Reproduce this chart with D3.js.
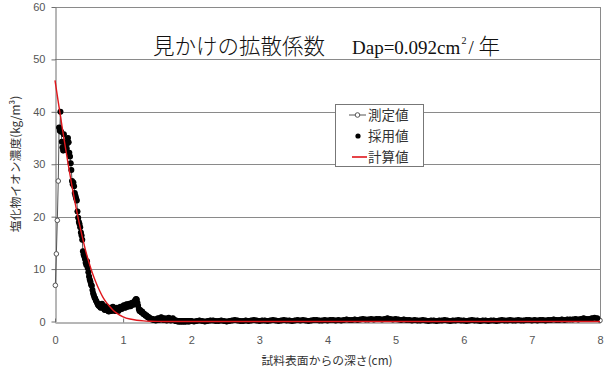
<!DOCTYPE html>
<html>
<head>
<meta charset="utf-8">
<script src="https://cdn.jsdelivr.net/npm/d3@7"></script>
<style>
  html, body { margin: 0; padding: 0; background: #fff; }
  svg { display: block; }
</style>
</head>
<body>
<svg id="chart" width="608" height="370"></svg>
<script>
// Chloride profile: depth (cm) vs chloride ion concentration (kg/m3)

const xTicks = [0, 1, 2, 3, 4, 5, 6, 7, 8];
const yTicks = [0, 10, 20, 30, 40, 50, 60];

// Measured points near the surface (depth, value) that are not adopted
const measuredHeadDepth = [0.005, 0.02, 0.034, 0.048];
const measuredHeadValue = [6.9, 12.9, 19.3, 26.8];
// Last measured point at the far end of the core
const measuredEndDepth = [8.0];
const measuredEndValue = [0.2];

// Adopted values, near-surface part: sampled every 0.01 cm from 0.06 cm
const nearStart = 0.06, nearStep = 0.01;
const nearValues = [
  37.0,36.4,40.0,36.2,34.3,33.2,32.6,35.7,34.2,33.4,
  32.7,33.0,34.0,35.0,34.2,32.2,31.5,30.2,28.9,26.8,
  26.2,26.5,25.8,24.5,24.0,23.5,23.1,21.0,19.8,19.0,
  18.6,18.0,17.0,16.4,15.6,13.4,12.8,12.4,11.9,11.2,
  10.8,11.5,10.2,9.4,8.6,8.0,7.6,7.0,6.8,6.0,
  5.4,5.0,4.6,4.4,4.0,3.8,3.5,3.2,3.0,3.3,
  2.8,2.6,2.9,3.4,3.0,2.6,2.4,2.2,2.6,2.9,
  2.5,2.2,2.0,1.9,2.2,2.6,2.3,2.0,2.4,2.8,
  2.5,2.2,2.0,2.1,2.4,2.6,2.3,2.0,2.2,2.5,
  2.8,2.6,2.4,2.6,2.9,3.1,2.8,2.6,3.0,3.3,
  3.0,2.8,3.2,3.4,3.1,2.9,3.3,3.6,3.4,3.2,
  3.6,3.9,4.1,4.3,4.2,3.6,3.0,2.4,2.0,2.2,
  1.9,1.7,1.9,1.6,1.4,1.5,1.3,1.1,1.2,1.0,
  0.8,0.9,0.7,0.6,0.6,0.5,0.4,0.5,0.4,0.3,
  0.4,0.3,0.2,0.3,0.5,0.6,0.4,0.3,0.5,0.7,
  0.8,0.6,0.4,0.3,0.4,0.6,0.5,0.3,0.2,0.4,
  0.6,0.7,0.5,0.3,0.2,0.3,0.5,0.6,0.4,0.3,
  0.2,0.1,0.2,0.1,0.0,0.1,0.0,0.0,0.1,0.0,
  0.0,0.1,0.0,0.0,0.1,0.0,0.0,0.1,0.1,0.0,
  0.1,0.0,0.1,0.1
];

// Adopted values, deep part: sampled every 0.04 cm from 2.00 cm
const deepStart = 2.0, deepStep = 0.04;
const deepValues = [
  0.1,0.0,0.1,0.2,0.1,0.0,0.1,0.2,0.2,0.1,
  0.1,0.2,0.1,0.0,0.1,0.2,0.3,0.2,0.1,0.1,
  0.2,0.1,0.2,0.3,0.2,0.1,0.2,0.2,0.1,0.2,
  0.3,0.2,0.1,0.2,0.3,0.2,0.2,0.1,0.2,0.3,
  0.2,0.3,0.2,0.1,0.2,0.3,0.3,0.2,0.2,0.3,
  0.2,0.3,0.3,0.2,0.3,0.2,0.3,0.4,0.3,0.3,
  0.4,0.3,0.4,0.5,0.4,0.4,0.5,0.4,0.5,0.5,
  0.4,0.5,0.6,0.5,0.4,0.5,0.4,0.3,0.4,0.3,
  0.3,0.2,0.3,0.2,0.2,0.3,0.2,0.1,0.2,0.2,
  0.1,0.2,0.2,0.3,0.2,0.1,0.2,0.2,0.3,0.2,
  0.2,0.1,0.2,0.3,0.2,0.2,0.1,0.2,0.2,0.1,
  0.2,0.2,0.1,0.2,0.3,0.2,0.2,0.3,0.2,0.2,
  0.3,0.2,0.2,0.3,0.3,0.2,0.3,0.2,0.3,0.3,
  0.2,0.3,0.3,0.4,0.3,0.3,0.4,0.3,0.4,0.4,
  0.4,0.5,0.4,0.5,0.6,0.5,0.5,0.6,0.7,0.6
];

// Calculated profile (Dap = 0.092 cm2/year)
const calcDepth = [0,0.05,0.1,0.15,0.2,0.25,0.3,0.35,0.4,0.45,0.5,0.55,0.6,0.65,0.7,0.75,0.8,0.85,0.9,1.0,1.1,1.2,1.3,1.4,1.5,1.6,2.0,8.0];
const calcValue = [46.0,41.7,37.5,33.4,29.5,25.8,22.3,19.1,16.2,13.5,11.2,9.2,7.5,6.0,4.7,3.7,2.9,2.2,1.65,0.9,0.47,0.24,0.11,0.05,0.02,0.01,0,0];

const legendLabels = ["測定値", "採用値", "計算値"];
const titleMain = "見かけの拡散係数";
const titleFormula = "Dap=0.092cm";
const xTitle = "試料表面からの深さ(cm)";
const yTitle = "塩化物イオン濃度(kg/m³)";

// ---- build point lists ----
const adopted = nearValues.map((v, i) => [+(nearStart + i * nearStep).toFixed(3), v])
  .concat(deepValues.map((v, i) => [+(deepStart + i * deepStep).toFixed(3), v]));
const measured = measuredHeadDepth.map((d, i) => [d, measuredHeadValue[i]])
  .concat(adopted)
  .concat(measuredEndDepth.map((d, i) => [d, measuredEndValue[i]]));
const calculated = calcDepth.map((d, i) => [d, calcValue[i]]);

// ---- layout ----
const svg = d3.select("#chart");
const x = d3.scaleLinear().domain([0, 8]).range([55, 600]);
const y = d3.scaleLinear().domain([0, 60]).range([321.5, 7]);

const gridColor = "#8a8a8a";
const tickFont = "'Liberation Sans', Arial, sans-serif";
const jpFont = "'Noto Sans CJK JP', sans-serif";
const serifFont = "'Liberation Serif', serif";

// horizontal gridlines
svg.append("g").selectAll("line")
  .data(yTicks.filter(d => d > 0))
  .join("line")
  .attr("x1", x(0)).attr("x2", x(8))
  .attr("y1", d => Math.round(y(d)) + 0.5).attr("y2", d => Math.round(y(d)) + 0.5)
  .attr("stroke", gridColor).attr("stroke-width", 1);

// right border
svg.append("line")
  .attr("x1", Math.round(x(8)) + 0.5).attr("x2", Math.round(x(8)) + 0.5)
  .attr("y1", y(60)).attr("y2", y(0))
  .attr("stroke", gridColor);

// y axis
const yAxis = svg.append("g")
  .attr("transform", `translate(${Math.round(x(0)) + 0.5},0)`)
  .call(d3.axisLeft(y).tickValues(yTicks).tickSize(4).tickSizeOuter(0).tickPadding(6));
yAxis.select(".domain").attr("stroke", "#6e6e6e");
yAxis.selectAll(".tick line").attr("stroke", "#6e6e6e");
yAxis.selectAll("text").attr("font-family", tickFont).attr("font-size", 11).attr("fill", "#555");

// x axis
const xAxis = svg.append("g")
  .attr("transform", `translate(0,${Math.round(y(0)) + 0.5})`)
  .call(d3.axisBottom(x).tickValues(xTicks).tickSizeInner(-4).tickSizeOuter(0).tickPadding(14));
xAxis.select(".domain").attr("stroke", "#6e6e6e");
xAxis.selectAll(".tick line").attr("stroke", "#6e6e6e");
xAxis.selectAll("text").attr("font-family", tickFont).attr("font-size", 11).attr("fill", "#555");

// measured series: thin line with open circles
svg.append("path")
  .datum(measured)
  .attr("fill", "none").attr("stroke", "#555").attr("stroke-width", 1)
  .attr("d", d3.line().x(d => x(d[0])).y(d => y(d[1])));
svg.append("g").selectAll("circle")
  .data(measured)
  .join("circle")
  .attr("cx", d => x(d[0])).attr("cy", d => y(d[1])).attr("r", 2.3)
  .attr("fill", "#fff").attr("stroke", "#555").attr("stroke-width", 1);

// adopted series: filled black dots
svg.append("g").selectAll("circle")
  .data(adopted)
  .join("circle")
  .attr("cx", d => x(d[0])).attr("cy", d => y(d[1])).attr("r", 3)
  .attr("fill", "#000");

// calculated series: red curve
svg.append("path")
  .datum(calculated)
  .attr("fill", "none").attr("stroke", "#e0161b").attr("stroke-width", 1.4)
  .attr("d", d3.line().x(d => x(d[0])).y(d => y(d[1])).curve(d3.curveMonotoneX));

// title: one text element built from tspans
const title = svg.append("text")
  .attr("y", 54).attr("fill", "#111")
  .attr("font-family", jpFont).attr("font-weight", 300).attr("font-size", 21.5);
title.append("tspan").attr("x", 153).text(titleMain);
title.append("tspan").attr("x", 352)
  .attr("font-family", serifFont).attr("font-weight", 400).attr("font-size", 19)
  .text(titleFormula);
title.append("tspan").attr("x", 461.5).attr("dy", -10)
  .attr("font-family", serifFont).attr("font-weight", 400).attr("font-size", 10)
  .text("2");
title.append("tspan").attr("x", 468.5).attr("dy", 10)
  .attr("font-family", serifFont).attr("font-weight", 400).attr("font-size", 19)
  .text("/");
title.append("tspan").attr("x", 478.5).text("年");

// axis titles
svg.append("text")
  .attr("x", 327).attr("y", 365)
  .attr("text-anchor", "middle")
  .attr("font-family", jpFont).attr("font-size", 11.8).attr("fill", "#333")
  .text(xTitle);
svg.append("text")
  .attr("transform", "translate(20,164) rotate(-90)")
  .attr("text-anchor", "middle")
  .attr("font-family", jpFont).attr("font-size", 11.8).attr("fill", "#333")
  .text(yTitle);

// legend
const lg = svg.append("g");
lg.append("rect")
  .attr("x", 335.5).attr("y", 104.5).attr("width", 88).attr("height", 62)
  .attr("fill", "#fff").attr("stroke", "#777");
const rowY = [115, 136, 157];
lg.selectAll("text").data(legendLabels).join("text")
  .attr("x", 368).attr("y", (d, i) => rowY[i] + 5)
  .attr("font-family", jpFont).attr("font-size", 13.5).attr("fill", "#333")
  .text(d => d);
// measured symbol
lg.append("line").attr("x1", 349).attr("x2", 366).attr("y1", rowY[0]).attr("y2", rowY[0])
  .attr("stroke", "#555");
lg.append("circle").attr("cx", 357.5).attr("cy", rowY[0]).attr("r", 2.3)
  .attr("fill", "#fff").attr("stroke", "#555");
// adopted symbol
lg.append("circle").attr("cx", 358).attr("cy", rowY[1]).attr("r", 2.6).attr("fill", "#000");
// calculated symbol
lg.append("line").attr("x1", 352).attr("x2", 367).attr("y1", rowY[2]).attr("y2", rowY[2])
  .attr("stroke", "#e0161b").attr("stroke-width", 1.6);
</script>
</body>
</html>
